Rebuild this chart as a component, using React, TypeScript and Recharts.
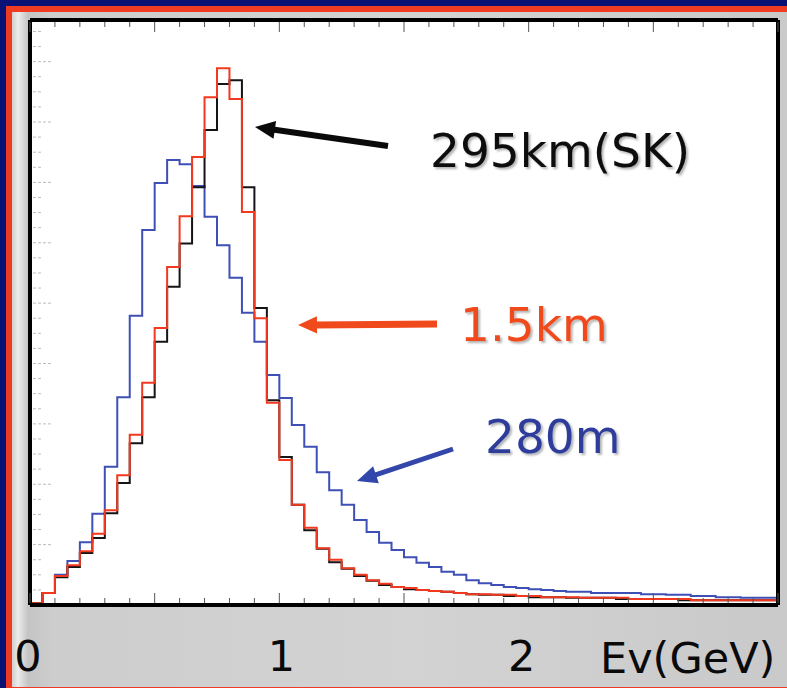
import React from 'react';
import { LineChart, Line, XAxis, YAxis, CartesianGrid } from 'recharts';

// Energy histograms, 60 bins of 0.05 GeV from 0 to 3 GeV (arbitrary units)
const BIN_WIDTH = 0.05;
const nd280m = [3, 20, 50, 73, 104, 151, 229, 344, 479, 621, 699, 737, 730, 694, 643, 596, 542, 484, 436, 381, 343, 298, 262, 220, 190, 166, 141, 121, 103, 91, 79, 70, 63, 55, 50, 41, 36, 33, 30, 28, 26, 25, 23, 22, 22, 20, 20, 20, 20, 18, 18, 17, 17, 15, 15, 13, 13, 12, 12, 12];
const near1500m = [3, 20, 48, 66, 89, 118, 157, 215, 282, 368, 459, 560, 644, 742, 841, 889, 838, 651, 475, 335, 240, 166, 128, 94, 75, 61, 50, 41, 35, 30, 28, 25, 23, 22, 20, 18, 18, 17, 17, 15, 15, 13, 13, 13, 12, 12, 12, 12, 10, 10, 10, 10, 10, 8, 8, 8, 8, 8, 8, 8];
const sk295km = [3, 20, 46, 63, 86, 111, 152, 202, 268, 344, 436, 527, 599, 692, 787, 863, 869, 692, 492, 339, 245, 166, 124, 93, 71, 60, 48, 40, 33, 30, 26, 25, 23, 22, 20, 18, 17, 17, 15, 15, 13, 13, 13, 12, 12, 12, 12, 10, 10, 10, 10, 10, 8, 8, 8, 8, 8, 8, 8, 8];

const xLabelValues = [0, 1, 2];
const xLabelTexts = ['0', '1', '2'];
const xTitle = 'Ev(GeV)';
const labelSK = '295km(SK)';
const label1500 = '1.5km';
const label280 = '280m';

const X_MAX = 3;
const Y_MAX = 969;

const data = Array.from({ length: nd280m.length + 1 }, (_, i) => {
  const k = Math.min(i, nd280m.length - 1);
  return {
    e: Math.round(i * BIN_WIDTH * 100) / 100,
    nd: nd280m[k],
    near: near1500m[k],
    sk: sk295km[k],
  };
});

const xTicks = Array.from({ length: 31 }, (_, i) => i / 10);
const yTicks = Array.from({ length: 39 }, (_, i) => i * 25);

const FONT = '"DejaVu Sans", Verdana, sans-serif';
const LABEL_DX: Record<string, number> = { '0': -2, '1': 2, '2': -7 };

const isMajorX = (v: number) => Math.abs(v * 2 - Math.round(v * 2)) < 1e-6;

const BottomTick = (props: any) => {
  const { x, y, payload } = props;
  const v = payload.value;
  const len = isMajorX(v) ? 10 : 5;
  const idx = xLabelValues.findIndex((lv) => Math.abs(lv - v) < 1e-6);
  const txt = idx >= 0 ? xLabelTexts[idx] : null;
  return (
    <g>
      <line x1={x} x2={x} y1={y - 2} y2={y - 2 - len} stroke="#555" strokeWidth={1} />
      {txt !== null && (
        <text x={x + (LABEL_DX[txt] || 0)} y={y + 66} textAnchor="middle" fontFamily={FONT} fontSize={43} fill="#0a0a0a">
          {txt}
        </text>
      )}
    </g>
  );
};

const TopTick = (props: any) => {
  const { x, y, payload } = props;
  const len = isMajorX(payload.value) ? 10 : 5;
  return <line x1={x} x2={x} y1={y + 2} y2={y + 2 + len} stroke="#555" strokeWidth={1} />;
};

const LeftTick = (props: any) => {
  const { x, y, payload } = props;
  const v = payload.value;
  if (v === 0) return <g />;
  const len = v % 100 === 0 ? 20 : 9;
  return <line x1={x + 3} x2={x + 3 + len} y1={y} y2={y} stroke="#bdbdbd" strokeWidth={1} strokeDasharray="3 2" />;
};

const Arrow = ({ x1, y1, x2, y2, color, width, head }: any) => {
  const ang = Math.atan2(y2 - y1, x2 - x1);
  const hl = head;
  const hw = head * 0.45;
  const bx = x2 - hl * Math.cos(ang);
  const by = y2 - hl * Math.sin(ang);
  const px = -Math.sin(ang) * hw;
  const py = Math.cos(ang) * hw;
  return (
    <g>
      <line x1={x1} y1={y1} x2={bx + Math.cos(ang) * 2} y2={by + Math.sin(ang) * 2} stroke={color} strokeWidth={width} />
      <polygon points={`${x2},${y2} ${bx + px},${by + py} ${bx - px},${by - py}`} fill={color} />
    </g>
  );
};

const FRAME = { stroke: '#000', strokeWidth: 4 };

export default function App() {
  return (
    <div style={{ position: 'absolute', left: 0, top: 0, width: 787, height: 688, background: '#0b1275', overflow: 'hidden' }}>
      <div style={{ position: 'absolute', left: 6, top: 6, right: 0, bottom: 0, background: '#ee3b22' }} />
      <div
        style={{
          position: 'absolute',
          left: 12,
          top: 12,
          right: 0,
          bottom: 1,
          background: 'linear-gradient(to right, #cfcfcf 0px, #ececec 6px, #c4c4c4 16px, #cdcdcd 40px, #d3d3d3 400px, #c9c9c9 787px)',
        }}
      />
      <div style={{ position: 'absolute', left: 0, top: 0 }}>
        <LineChart width={787} height={688} data={data} margin={{ top: 19, left: 29, right: 8, bottom: 82 }}>
          <CartesianGrid xAxisId="bottom" yAxisId="left" horizontal={false} vertical={false} fill="#ffffff" />
          <XAxis
            xAxisId="bottom"
            dataKey="e"
            type="number"
            domain={[0, X_MAX]}
            ticks={xTicks}
            interval={0}
            height={1}
            tickSize={0}
            tickMargin={0}
            tickLine={false}
            tick={<BottomTick />}
            axisLine={FRAME}
          />
          <XAxis
            xAxisId="top"
            orientation="top"
            dataKey="e"
            type="number"
            domain={[0, X_MAX]}
            ticks={xTicks}
            interval={0}
            height={1}
            tickSize={0}
            tickMargin={0}
            tickLine={false}
            tick={<TopTick />}
            axisLine={FRAME}
          />
          <YAxis
            yAxisId="left"
            type="number"
            domain={[0, Y_MAX]}
            ticks={yTicks}
            interval={0}
            width={1}
            tickSize={0}
            tickMargin={0}
            tickLine={false}
            tick={<LeftTick />}
            axisLine={FRAME}
          />
          <YAxis
            yAxisId="right"
            orientation="right"
            type="number"
            domain={[0, Y_MAX]}
            width={1}
            tick={false}
            tickLine={false}
            axisLine={FRAME}
          />
          <Line xAxisId="bottom" yAxisId="left" type="stepAfter" dataKey="nd" stroke="#3e4fb6" strokeWidth={2} dot={false} isAnimationActive={false} />
          <Line xAxisId="bottom" yAxisId="left" type="stepAfter" dataKey="sk" stroke="#151515" strokeWidth={2} dot={false} isAnimationActive={false} />
          <Line xAxisId="bottom" yAxisId="left" type="stepAfter" dataKey="near" stroke="#f2381e" strokeWidth={2} dot={false} isAnimationActive={false} />
        </LineChart>
      </div>
      <svg width={787} height={688} style={{ position: 'absolute', left: 0, top: 0, pointerEvents: 'none' }}>
        <defs>
          <filter id="tshadow" x="-10%" y="-10%" width="130%" height="140%">
            <feDropShadow dx="2" dy="2" stdDeviation="1" floodColor="#000" floodOpacity="0.3" />
          </filter>
        </defs>
        <Arrow x1={388} y1={146} x2={255} y2={127} color="#0a0a0a" width={6} head={20} />
        <Arrow x1={437} y1={324} x2={298} y2={325} color="#f04a1c" width={7} head={19} />
        <Arrow x1={453} y1={449} x2={357} y2={481} color="#3346aa" width={5} head={20} />
        <g fontFamily={FONT} fontSize={47} filter="url(#tshadow)">
          <text x={430} y={167} fill="#0a0a0a">{labelSK}</text>
          <text x={460} y={341} fill="#f04a1c">{label1500}</text>
          <text x={485} y={453} fill="#2d3e9c">{label280}</text>
        </g>
        <text x={600} y={673} fontFamily={FONT} fontSize={43} fill="#0a0a0a">{xTitle}</text>
      </svg>
    </div>
  );
}
